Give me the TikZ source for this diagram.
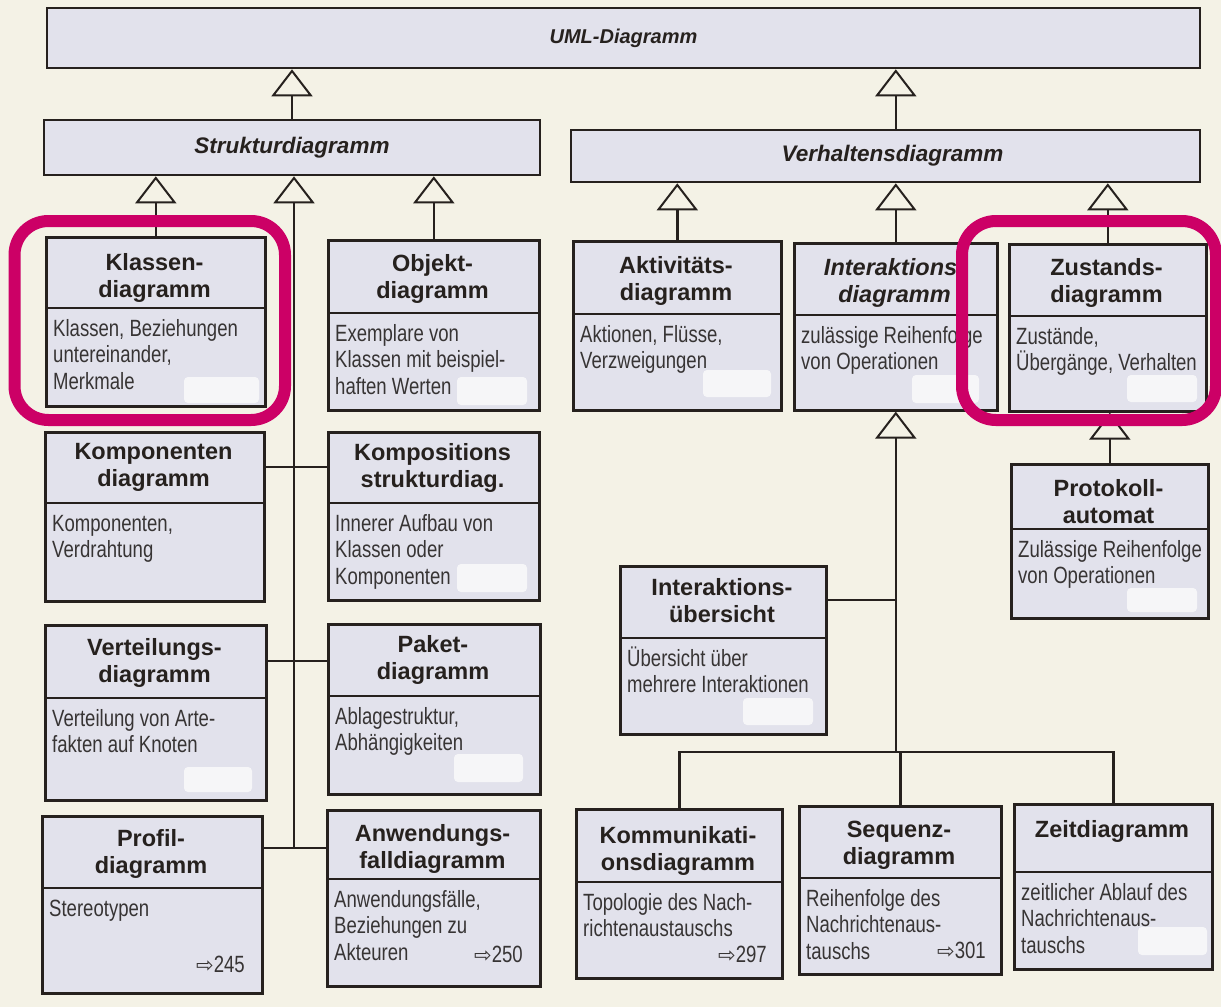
\documentclass[tikz,border=0pt]{standalone}
\usepackage{fontspec}
\setmainfont{Liberation Sans}
\newfontfamily\bodyfont[FakeStretch=0.79]{Liberation Sans}
\newfontfamily\arrowfont{DejaVu Sans}
\usetikzlibrary{arrows.meta}
\definecolor{paper}{RGB}{244,242,230}
\definecolor{boxfill}{RGB}{226,226,236}
\definecolor{ink}{RGB}{38,33,30}
\definecolor{bodyink}{RGB}{55,52,52}
\definecolor{framecol}{RGB}{204,0,102}
\definecolor{patch}{RGB}{246,246,248}
\tikzset{
  umlbox/.style={draw=ink, line width=2.6pt, fill=boxfill, inner sep=0pt, anchor=north west},
  hdr/.style={draw=ink, line width=2.6pt, fill=boxfill, inner sep=0pt, text=ink,
    font=\fontsize{22.5}{26}\selectfont\bfseries\itshape},
  titletext/.style={font=\fontsize{23.5}{27}\selectfont\bfseries, text=ink, align=center, inner sep=0pt},
  bodytext/.style={font=\bodyfont\fontsize{23.5}{26.5}\selectfont, text=bodyink, align=left,
    inner sep=0pt, anchor=north west},
  reftext/.style={font=\bodyfont\fontsize{23.5}{26.5}\selectfont, text=bodyink, inner sep=0pt, anchor=base east},
  conline/.style={draw=ink, line width=2.4pt},
  gen/.style={conline, -{Triangle[open, length=27pt, width=41pt, line width=2pt]}},
  patchbox/.style={fill=patch, rounded corners=4pt},
  hilite/.style={draw=framecol, line width=12pt, rounded corners=34pt}
}
% name, x1, y1, x2, y2, divider y, title, body, title offset
\newcommand\umlnode[9]{%
  \node[umlbox, minimum width={(#4-#2)*1pt}, minimum height={(#5-#3)*1pt}] (#1) at (#2,#3) {};
  \draw[draw=ink, line width=2.6pt] (#2,#6) -- (#4,#6);
  \node[titletext] (#1-t) at ({(#2+#4)/2},{(#3+#6)/2+#9}) {#7};
  \node[bodytext] (#1-b) at ({#2+8},{#6+7}) {\rule{0pt}{21pt}#8};
}
\newcommand\pref[1]{{\arrowfont\fontsize{21}{21}\selectfont ⇨}#1}
\begin{document}
\begin{tikzpicture}[x=1pt, y=-1pt]
\useasboundingbox (0,0) rectangle (1221,1007);
\fill[paper] (0,0) rectangle (1221,1007);

% header bars
\node[hdr, minimum width=1153pt, minimum height=60pt, font=\fontsize{20}{24}\selectfont\bfseries\itshape] (uml) at (623.5,38) {UML-Diagramm};
\node[hdr, minimum width=496pt, minimum height=55pt] (struktur) at (292,147.5) {Strukturdiagramm};
\node[hdr, minimum width=629pt, minimum height=52pt] (verhalten) at (885.5,156) {\hspace*{14pt}Verhaltensdiagramm};

% boxes
\umlnode{klassen}{45}{236}{264}{405}{308}{Klassen-\\diagramm}{Klassen, Beziehungen\\untereinander,\\Merkmale}{5.5}
\umlnode{objekt}{327}{239}{538}{409}{313}{Objekt-\\diagramm}{Exemplare von\\Klassen mit beispiel-\\haften Werten}{3}
\umlnode{aktiv}{572}{240}{780}{409}{314}{Aktivitäts-\\diagramm}{Aktionen, Flüsse,\\Verzweigungen}{3.5}
\umlnode{interak}{793}{242}{996}{409}{315}{\textit{Interaktions\phantom{-}}\\\textit{diagramm}}{zulässige Reihenfolge\\von Operationen}{4}
\umlnode{zustand}{1008}{243}{1205}{410}{316}{Zustands-\\diagramm}{Zustände,\\Übergänge, Verhalten}{3}
\umlnode{kompon}{44}{431}{263}{600}{503}{Komponenten\\diagramm}{Komponenten,\\Verdrahtung}{0.5}
\umlnode{komposit}{327}{431}{538}{599}{503}{Kompositions\\strukturdiag.}{Innerer Aufbau von\\Klassen oder\\Komponenten}{0.5}
\umlnode{verteil}{44}{624}{265}{799}{698}{Verteilungs-\\diagramm}{Verteilung von Arte-\\fakten auf Knoten}{1.5}
\umlnode{paket}{327}{623}{539}{793}{696}{Paket-\\diagramm}{Ablagestruktur,\\Abhängigkeiten}{0}
\umlnode{profil}{41}{815}{261}{992}{888}{Profil-\\diagramm}{Stereotypen}{2.5}
\umlnode{anwend}{326}{809}{539}{985}{879}{Anwendungs-\\falldiagramm}{Anwendungsfälle,\\Beziehungen zu\\Akteuren}{5}
\umlnode{protokoll}{1010}{463}{1207}{617}{529}{Protokoll-\\automat}{Zulässige Reihenfolge\\von Operationen}{5.5}
\umlnode{uebersicht}{619}{565}{825}{733}{638}{Interaktions-\\übersicht}{Übersicht über\\mehrere Interaktionen}{-1}
\umlnode{kommun}{575}{808}{781}{977}{882}{Kommunikati-\\onsdiagramm}{Topologie des Nach-\\richtenaustauschs}{5.5}
\umlnode{sequenz}{798}{805}{1000}{973}{878}{Sequenz-\\diagramm}{Reihenfolge des\\Nachrichtenaus-\\tauschs}{4}
\umlnode{zeit}{1013}{803}{1211}{968}{872}{Zeitdiagramm}{zeitlicher Ablauf des\\Nachrichtenaus-\\tauschs}{-6.5}

% page references
\node[reftext] (profil-r) at (245,972) {\pref{245}};
\node[reftext] (anwend-r) at (523,962) {\pref{250}};
\node[reftext] (kommun-r) at (767,962) {\pref{297}};
\node[reftext] (sequenz-r) at (986,958) {\pref{301}};

% generalisation connectors
\draw[gen] (struktur.north) -- (struktur.north |- uml.south);
\draw[gen] (interak.north |- verhalten.north) -- (interak.north |- uml.south);
\draw[gen] (klassen.north) -- (klassen.north |- struktur.south);
\draw[gen] (objekt.north) -- (objekt.north |- struktur.south);
\coordinate (sj1) at (294,467);
\coordinate (sj2) at (294,661);
\coordinate (sj3) at (294,848);
\draw[gen] (sj3) -- (sj3 |- struktur.south);
\draw[conline] (kompon.east |- sj1) -- (komposit.west |- sj1);
\draw[conline] (verteil.east |- sj2) -- (paket.west |- sj2);
\draw[conline] (profil.east |- sj3) -- (anwend.west |- sj3);
\draw[gen] (aktiv.north) -- (aktiv.north |- verhalten.south);
\draw[gen] (interak.north) -- (interak.north |- verhalten.south);
\draw[gen] (zustand.north) -- (zustand.north |- verhalten.south);
\draw[gen] (protokoll.north) -- (protokoll.north |- zustand.south);
\coordinate (ib) at (896,752);
\coordinate (iu) at (896,600);
\draw[gen] (interak.south |- ib) -- (interak.south);
\draw[conline] (uebersicht.east |- iu) -- (interak.south |- iu);
\draw[conline] (kommun.north) |- (zeit.north |- ib) -- (zeit.north);
\draw[conline] (sequenz.north) -- (sequenz.north |- ib);

% white patches
\fill[patchbox] (184,377) rectangle (259,403);
\fill[patchbox] (457,377) rectangle (527,405);
\fill[patchbox] (703,370) rectangle (771,397);
\fill[patchbox] (912,375) rectangle (979,403);
\fill[patchbox] (1127,375) rectangle (1197,402);
\fill[patchbox] (457,564) rectangle (527,592);
\fill[patchbox] (184,767) rectangle (252,792);
\fill[patchbox] (454,754) rectangle (523,782);
\fill[patchbox] (1127,588) rectangle (1197,612);
\fill[patchbox] (743,698) rectangle (813,725);
\fill[patchbox] (1138,927) rectangle (1207,955);

% highlight frames
\draw[hilite] (14.5,221) rectangle (285,420);
\draw[hilite] (962,221) rectangle (1216,420);
\end{tikzpicture}
\end{document}
